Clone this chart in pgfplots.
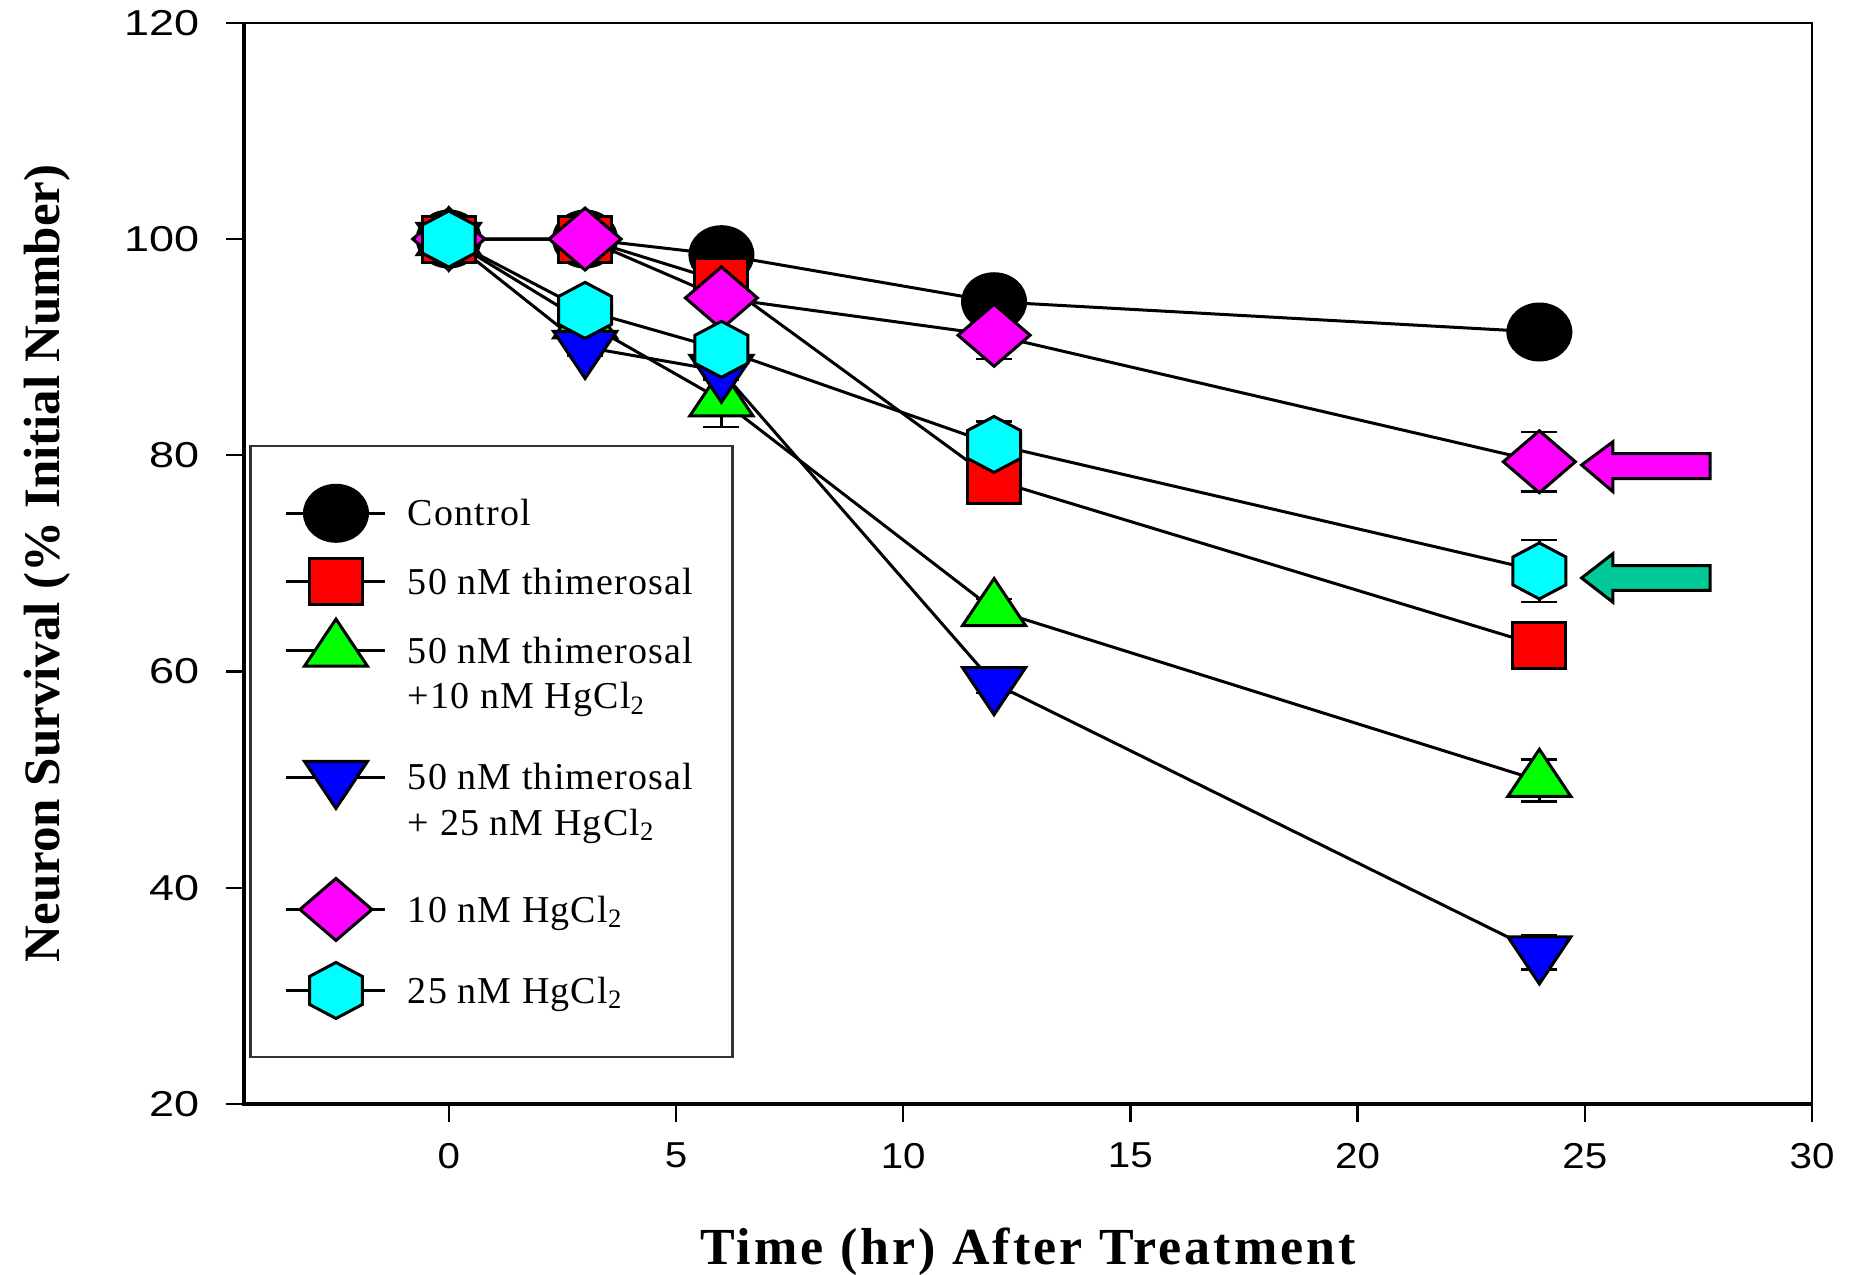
\documentclass[border=0pt]{standalone}
\usepackage{fontspec}
\setmainfont{Liberation Serif}
\newfontfamily\ytickfamily[FakeStretch=1.25]{Liberation Sans}
\newfontfamily\xtickfamily[FakeStretch=1.12]{Liberation Sans}
\newfontfamily\legfamily[LetterSpace=3]{Liberation Serif}
\newfontfamily\xlabfamily[LetterSpace=6]{Liberation Serif}
\usepackage{pgfplots}
\usepackage{pgfplotstable}
\pgfplotsset{compat=1.18}

\definecolor{arrowteal}{RGB}{0,200,150}
\definecolor{pmag}{RGB}{255,0,255}
\definecolor{pcyan}{RGB}{0,255,255}
\definecolor{pred}{RGB}{255,0,0}
\definecolor{pgreen}{RGB}{0,255,0}
\definecolor{pblue}{RGB}{0,0,255}

\pgfdeclareplotmark{hexagon*}{%
  \pgfpathmoveto{\pgfpointpolar{90}{\pgfplotmarksize}}%
  \pgfpathlineto{\pgfpointpolar{150}{\pgfplotmarksize}}%
  \pgfpathlineto{\pgfpointpolar{210}{\pgfplotmarksize}}%
  \pgfpathlineto{\pgfpointpolar{270}{\pgfplotmarksize}}%
  \pgfpathlineto{\pgfpointpolar{330}{\pgfplotmarksize}}%
  \pgfpathlineto{\pgfpointpolar{30}{\pgfplotmarksize}}%
  \pgfpathclose
  \pgfusepathqfillstroke}

\pgfplotstableread{
x y e
0 100 0
3 100 0
6 98.55 0
12 94.2 0
24 91.4 0
}\ctrl
\pgfplotstableread{
x y e
0 100 0
3 100 0
6 96.1 0.8
12 77.7 2.1
24 62.4 0.8
}\thim
\pgfplotstableread{
x y e
0 100 0
3 92.3 0
6 85.1 2.5
12 65.7 1.0
24 49.9 1.95
}\thimten
\pgfplotstableread{
x y e
0 100 0
3 90.0 0.8
6 87.8 0.8
12 58.9 0.9
24 34.0 1.57
}\thimtwf
\pgfplotstableread{
x y e
0 100 0
3 100 0
6 94.55 1.0
12 91.1 2.2
24 79.4 2.75
}\hgten
\pgfplotstableread{
x y e
0 100 0
3 93.4 0
6 89.8 1.0
12 81.0 2.1
24 69.3 2.86
}\hgtwf

\pgfplotsset{
  mk/.style={only marks, black,
    legend image code/.code={%
      \draw[black,line width=1.5pt] (0pt,6.3pt) -- (49.5pt,6.3pt);
      \draw plot coordinates {(24.75pt,6.3pt)};}},
  ln/.style={black, line width=1.5pt, mark=none, forget plot,
    error bars/.cd, y dir=both, y explicit,
    error bar style={line width=1.3pt},
    error mark options={black, line width=1.3pt, mark size=9pt, rotate=90}},
}

\newcommand{\twoline}[4]{\begin{tabular}[t]{@{}p{145pt}@{}}\rule{0pt}{#3}#1\\#2\rule[-#4]{0pt}{#4}\end{tabular}}

\begin{document}
\begin{tikzpicture}
\useasboundingbox (-122.15pt,-85.5pt) rectangle (806.4pt,552pt);
\begin{axis}[
  at={(0,0)}, anchor=south west, scale only axis,
  width=783.9pt, height=540.6pt,
  xmin=-4.5, xmax=30, ymin=20, ymax=120,
  xtick={0,5,...,30}, ytick={20,40,...,120},
  tick align=outside, tick pos=left,
  major tick length=9pt,
  tick style={black, line width=1.2pt},
  axis line style={black, line width=0.9pt},
  clip=false,
  /pgf/number format/assume math mode=true,
  yticklabel style={font=\fontsize{18}{20}\selectfont\ytickfamily, xshift=-10pt},
  xticklabel style={font=\fontsize{18}{20}\selectfont\xtickfamily, yshift=-7pt},
  xlabel={Time (hr) After Treatment},
  ylabel={Neuron Survival (\% Initial Number)},
  xlabel style={at={([yshift=-80.5pt]axis description cs:0.5,0)}, anchor=base,
    font=\fontsize{26}{30}\selectfont\xlabfamily\bfseries},
  ylabel style={at={([xshift=-92.6pt]axis description cs:0,0.5)}, anchor=base, rotate=0,
    font=\fontsize{25.5}{28}\selectfont\bfseries},
  legend style={at={(0.00325,0.6095)}, anchor=north west,
    draw=black!80, line width=1.1pt, fill=white,
    inner xsep=17.25pt, inner ysep=16pt, column sep=10.5pt, row sep=0pt,
    font=\fontsize{19}{22.7}\selectfont\legfamily,
    nodes={inner sep=0pt, text depth=, text height=},
    cells={anchor=base west}},
]
% lines and error bars
\addplot[ln] table[x=x,y=y,y error=e] {\ctrl};
\addplot[ln] table[x=x,y=y,y error=e] {\thim};
\addplot[ln] table[x=x,y=y,y error=e] {\thimten};
\addplot[ln] table[x=x,y=y,y error=e] {\thimtwf};
\addplot[ln] table[x=x,y=y,y error=e] {\hgten};
\addplot[ln] table[x=x,y=y,y error=e] {\hgtwf};
% markers
\addplot[mk, mark=*, mark size=14pt,
  mark options={fill=black, draw=black, line width=1.5pt, xscale=1.125}]
  table[x=x,y=y] {\ctrl};
\addlegendentry{\rule[-11.8pt]{0pt}{35.7pt}Control}
\addplot[mk, mark=square*, mark size=11.5pt,
  mark options={fill=pred, draw=black, line width=1.5pt, xscale=1.15}]
  table[x=x,y=y] {\thim};
\addlegendentry{\rule[-11.8pt]{0pt}{34.3pt}50 nM thimerosal}
\addplot[mk, mark=triangle*, mark size=15.67pt,
  mark options={fill=pgreen, draw=black, line width=1.5pt, xscale=1.16}]
  table[x=x,y=y] {\thimten};
\addlegendentry{\twoline{50 nM thimerosal}{+10 nM HgCl\textsubscript{2}}{22.5pt}{18.1pt}}
\addplot[mk, mark=triangle*, mark size=15.67pt,
  mark options={fill=pblue, draw=black, line width=1.5pt, xscale=1.16, rotate=180}]
  table[x=x,y=y] {\thimtwf};
\addlegendentry{\twoline{50 nM thimerosal}{+ 25 nM HgCl\textsubscript{2}}{22.5pt}{21pt}}
\addplot[mk, mark=diamond*, mark size=15.5pt,
  mark options={fill=pmag, draw=black, line width=1.5pt, xscale=1.55}]
  table[x=x,y=y] {\hgten};
\addlegendentry{\rule[-18pt]{0pt}{40.5pt}10 nM HgCl\textsubscript{2}}
\addplot[mk, mark=hexagon*, mark size=14pt,
  mark options={fill=pcyan, draw=black, line width=1.5pt, xscale=1.09}]
  table[x=x,y=y] {\hgtwf};
\addlegendentry{\rule[-11pt]{0pt}{33.5pt}25 nM HgCl\textsubscript{2}}
% thick left and bottom axis lines
\draw[black, line width=1.8pt] (rel axis cs:0,1) -- (rel axis cs:0,0) -- (rel axis cs:1,0);
% arrows
\draw[fill=pmag, line width=1.5pt, line join=miter]
  (axis cs:24.93,79.1) -- (axis cs:25.62,81.25) -- (axis cs:25.62,80.14)
  -- (axis cs:27.76,80.14) -- (axis cs:27.76,77.83) -- (axis cs:25.62,77.83)
  -- (axis cs:25.62,76.63) -- cycle;
\draw[fill=arrowteal, line width=1.5pt, line join=miter]
  (axis cs:24.93,68.65) -- (axis cs:25.62,70.9) -- (axis cs:25.62,69.8)
  -- (axis cs:27.76,69.8) -- (axis cs:27.76,67.5) -- (axis cs:25.62,67.5)
  -- (axis cs:25.62,66.4) -- cycle;
\end{axis}
\end{tikzpicture}
\end{document}
